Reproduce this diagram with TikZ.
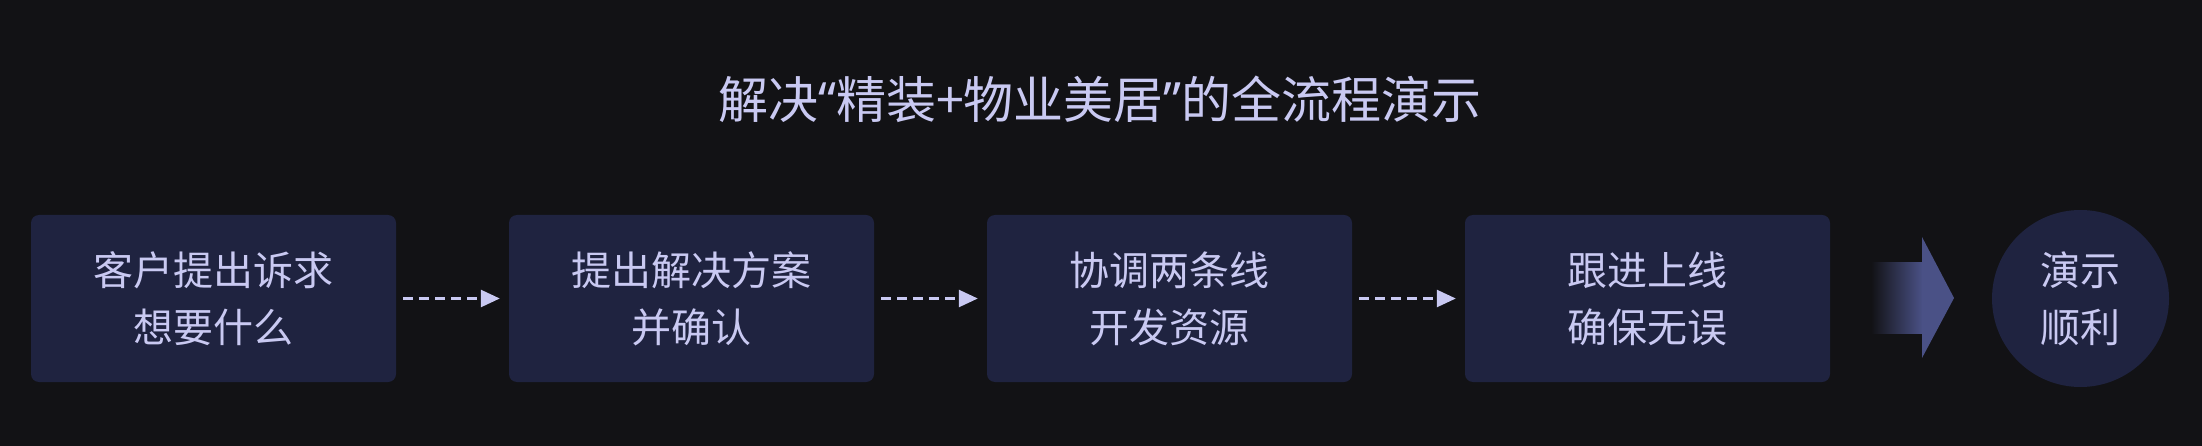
\documentclass[tikz,border=0pt]{standalone}
\usepackage{fontspec}
\setmainfont{Noto Sans CJK SC}
\newfontfamily\quotefont{Noto Sans}
\usetikzlibrary{arrows.meta}
\definecolor{bgc}{HTML}{121215}
\definecolor{boxc}{HTML}{1F2340}
\definecolor{txtc}{HTML}{C9C9F2}
\definecolor{arrc}{HTML}{4A5186}
\begin{document}
\begin{tikzpicture}[x=1pt,y=-1pt,line join=round,>={Triangle[length=19pt,width=17pt]}]
		\tikzset{box/.style={fill=boxc,rounded corners=8pt,minimum width=365pt,minimum height=167pt,align=center,text=txtc,font=\fontsize{40}{57}\selectfont},
		dashline/.style={->,txtc,line width=2.5pt,dash pattern=on 10pt off 6pt,shorten <=7pt,shorten >=9pt}}
		\fill[bgc] (0,0) rectangle (2202,446);
		\useasboundingbox (0,0) rectangle (2202,446);
		\node[text=txtc,font=\fontsize{50}{60}\selectfont] (title) at (1100,99) {解决{\quotefont “}精装+物业美居{\quotefont ”}的全流程演示};
		\foreach \i/\t in {1/{客户提出诉求\\想要什么},2/{提出解决方案\\并确认},3/{协调两条线\\开发资源},4/{跟进上线\\确保无误}}
		\node[box] (b\i) at (213.5+478*\i-478,298.5) {\t};
		\foreach \i/\j in {1/2,2/3,3/4}
		\draw[dashline] (b\i.east) -- (b\j.west);
		\node[box,circle,minimum size=177pt,inner sep=0pt] (done) at (2080.5,298.5) {演示\\顺利};
		\shade[left color=bgc,right color=arrc] (1871,263) rectangle (1922.5,333);
		\fill[arrc] (1922,237) -- (1954,298) -- (1922,358) -- cycle;
	\end{tikzpicture}
\end{document}
